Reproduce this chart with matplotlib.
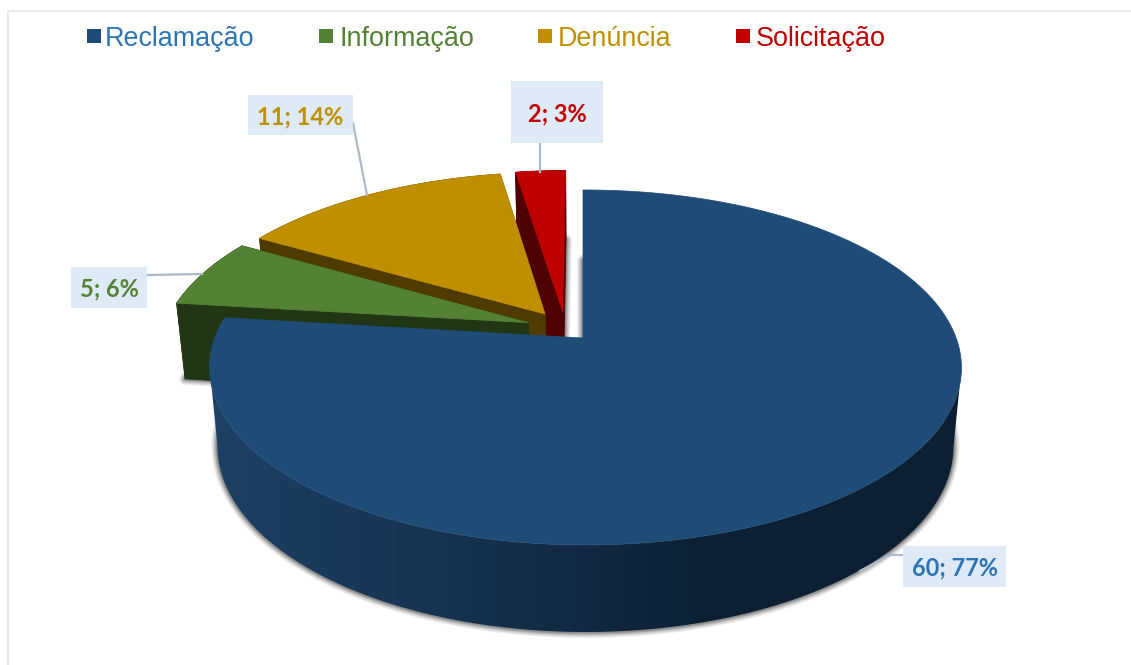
import numpy as np
import matplotlib
matplotlib.use("Agg")
import matplotlib.pyplot as plt
from matplotlib.patches import Rectangle, Polygon
from matplotlib.colors import LinearSegmentedColormap

# ---- data
categories = ["Reclamação", "Informação", "Denúncia", "Solicitação"]
values = [60, 5, 11, 2]

# ---- style
top_colors = ["#1e4c76", "#548235", "#bf8f00", "#c00000"]
wall_colors = ["#0d2033", "#213614", "#4f3a00", "#4f0000"]
text_colors = ["#2e75b6", "#548235", "#bf8f00", "#c00000"]
explode = [(0.0, 0.0), (-0.15, 0.09), (-0.105, 0.1423), (-0.056, 0.157)]
legend_x = [87, 319, 538, 736]
legend_text_gap = [18, 20, 20, 20]
label_boxes = [(903, 546, 103, 41), (71, 267, 76, 41), (248, 95, 105, 40), (511, 81, 92, 62)]
leaders = [[(903, 555), (890, 555), (860, 571)],
           [(147, 275), (202, 274)],
           [(353, 123), (367, 195)],
           [(540, 143), (540, 172)]]

# projection of the pie (screen pixels)
AX, AY = 583.0, 338.0       # apex of the top face
A, B, K, H = 370.7, 172.6, 0.166, -0.0066
BX_SCALE, BY_SCALE, BY0 = 0.979, 1.0466, 415.4


def project(X, Y, bottom=False):
    d = 1 + K * Y + H * X
    if bottom:
        return AX + BX_SCALE * A * X / d, BY0 - BY_SCALE * B * Y / d
    return AX + A * X / d, AY - B * Y / d


def outline(start, end, off):
    """Disk-plane outline of a slice: apex, then the arc (clockwise degrees from the top)."""
    n = max(int(abs(end - start)), 2) + 1
    t = np.radians(np.linspace(start, end, n))
    X = np.concatenate([[0.0], np.sin(t), [0.0]]) + off[0]
    Y = np.concatenate([[0.0], np.cos(t), [0.0]]) + off[1]
    return X, Y


fig = plt.figure(figsize=(11.31, 6.65), dpi=100)
ax = fig.add_axes([0, 0, 1, 1])
ax.set_xlim(0, 1131)
ax.set_ylim(665, 0)
ax.axis("off")

# chart frame
ax.plot([8, 8, 1131], [665, 11, 11], color="#e4e8ef", lw=1.3, zorder=1)

total = sum(values)
sweeps = np.array(values) / total * 360
starts = np.concatenate([[0], np.cumsum(sweeps)[:-1]])
ends = starts + sweeps

# soft shadows of the bottom faces
for s, e, off in zip(starts, ends, explode):
    X, Y = outline(s, e, off)
    px, py = project(X, Y, bottom=True)
    pts = np.column_stack([px, py])
    for w, a in zip([12, 9.5, 7, 5, 3], [0.08, 0.10, 0.12, 0.15, 0.20]):
        ax.add_patch(Polygon(pts, closed=True, fc="none", ec="#202020", lw=w * 0.72, alpha=a,
                             joinstyle="round", zorder=2))

wall_cmap = LinearSegmentedColormap.from_list("wall", ["#1d4064", "#16324f", wall_colors[0], wall_colors[0]],
                                              N=60)

# slices, back to front
for i in [3, 2, 1, 0]:
    X, Y = outline(starts[i], ends[i], explode[i])
    tx, ty = project(X, Y)
    bx, by = project(X, Y, bottom=True)
    z = 3 + (3 - i) * 2
    if i == 0:
        # the big slice: front wall between its two silhouette tangents, light-to-dark sweep
        t = np.radians(np.linspace(60, ends[0], 400))
        ftx, fty = project(np.sin(t), np.cos(t))
        fbx, fby = project(np.sin(t), np.cos(t), bottom=True)
        a_, b_ = int(np.argmax(ftx)), int(np.argmin(ftx)) + 1
        poly = Polygon(np.column_stack([np.r_[ftx[a_:b_], fbx[a_:b_][::-1]],
                                        np.r_[fty[a_:b_], fby[a_:b_][::-1]]]),
                       closed=True, fc="none", ec="none", transform=ax.transData)
        ax.add_patch(poly)
        im = ax.imshow(np.linspace(0, 1, 60)[None, :], cmap=wall_cmap, extent=(205, 965, 640, 330),
                       aspect="auto", zorder=z, interpolation="nearest")
        im.set_clip_path(poly)
        ax.set_xlim(0, 1131)
        ax.set_ylim(665, 0)
    else:
        for j in range(len(X) - 1):
            ax.add_patch(Polygon([(tx[j], ty[j]), (tx[j + 1], ty[j + 1]), (bx[j + 1], by[j + 1]), (bx[j], by[j])],
                                 closed=True, fc=wall_colors[i], ec=wall_colors[i], lw=0.6, zorder=z))
    ax.add_patch(Polygon(np.column_stack([tx, ty]), closed=True, fc=top_colors[i], ec=top_colors[i],
                         lw=0.5, zorder=z + 1))

# leader lines
for pts in leaders:
    xs, ys = zip(*pts)
    ax.plot(xs, ys, color="#adb9ca", lw=1.6, zorder=12)

# data labels
for i, (x, y, w, h) in enumerate(label_boxes):
    ax.add_patch(Rectangle((x, y), w, h, fc="#deeaf6", ec="none", zorder=13))
    txt = f"{values[i]}; {round(values[i] / total * 100)}%"
    ax.text(x + w / 2, y + h / 2 + 1.5, txt, color=text_colors[i], fontsize=17, fontweight="bold",
            family="Lato", ha="center", va="center", zorder=14)

# legend
for x, gap, name, c, tc in zip(legend_x, legend_text_gap, categories, top_colors, text_colors):
    ax.add_patch(Rectangle((x, 29), 14, 14, fc=c, ec="none", zorder=13))
    ax.text(x + gap, 35.5, name, color=tc, fontsize=19.4, family="Liberation Sans", ha="left",
            va="center_baseline", zorder=14)

fig.savefig("out.png", dpi=100, facecolor="white")
